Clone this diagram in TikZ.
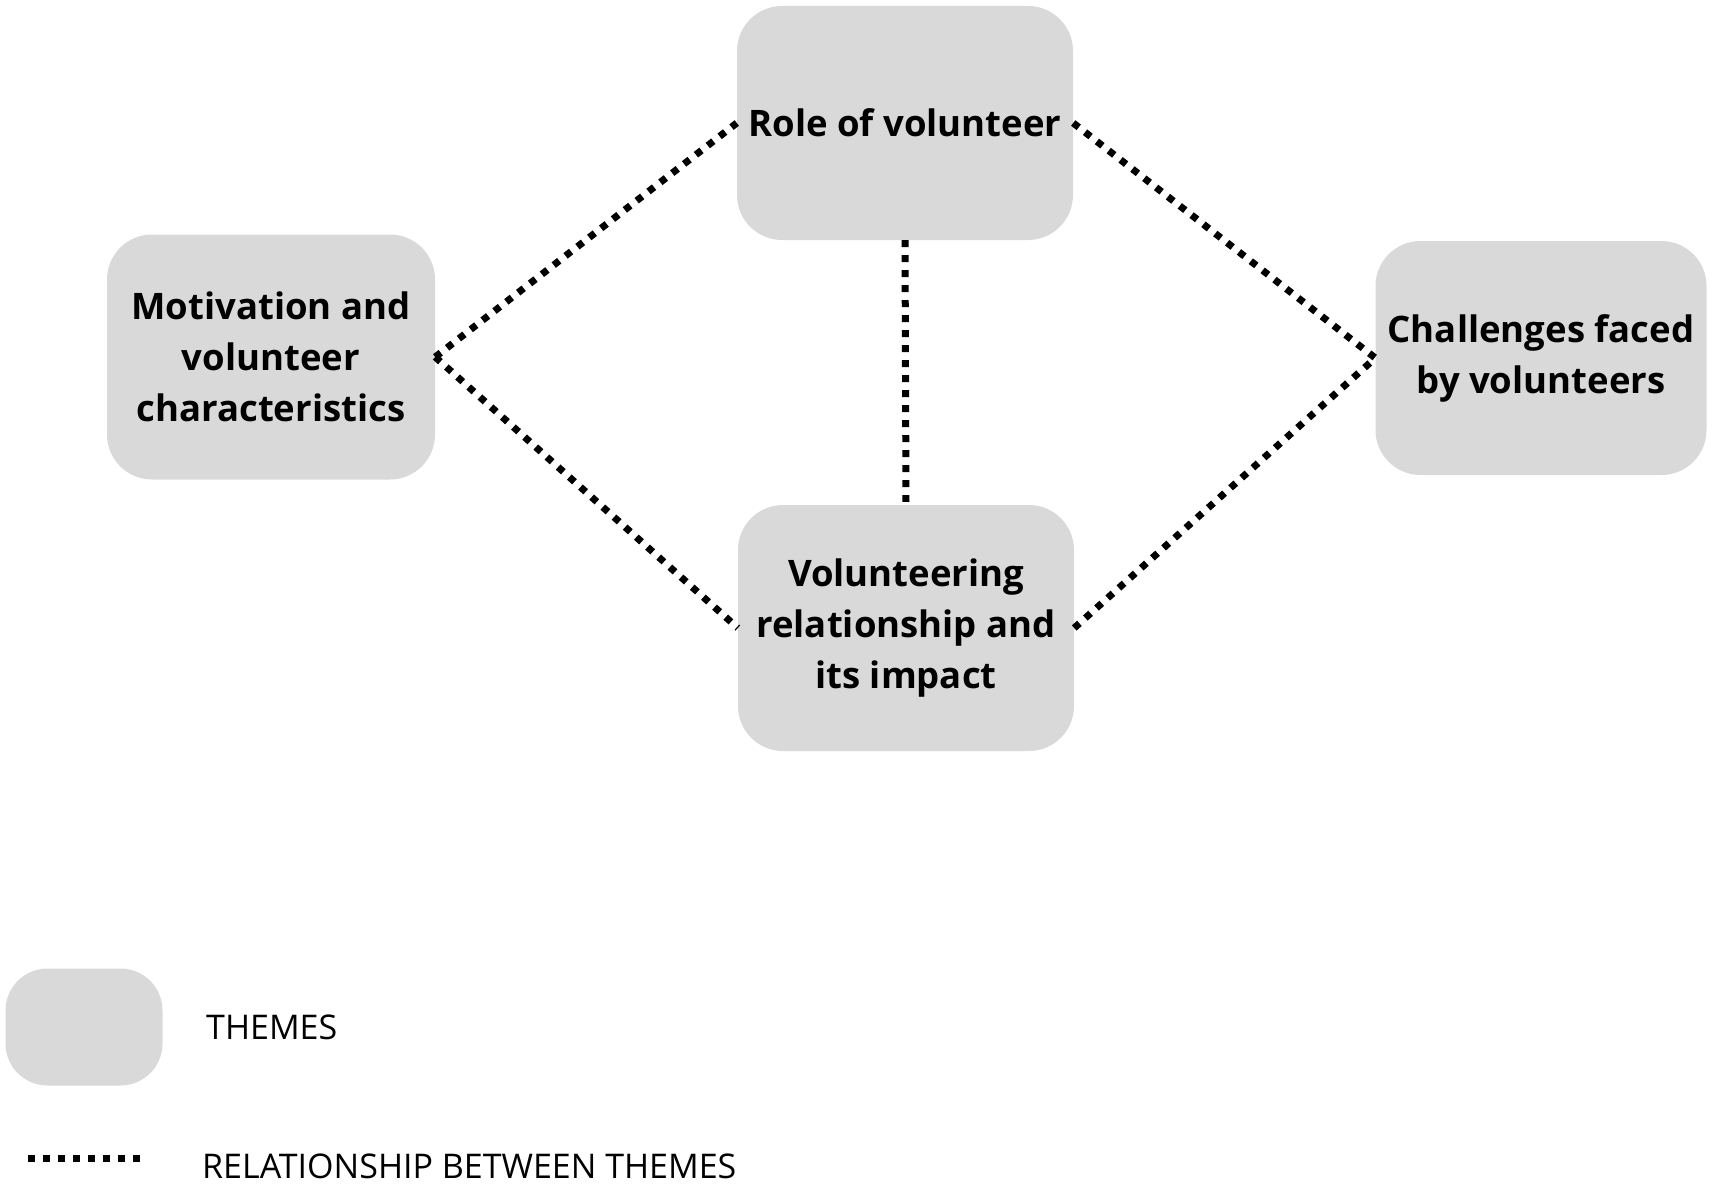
\documentclass[tikz,border=0pt]{standalone}
\usepackage{fontspec}
\setmainfont{Open Sans}
\usepackage{xcolor}
\usepackage{tikz}
\definecolor{themegray}{HTML}{D9D9D9}
\tikzset{
  theme node/.style={rectangle,rounded corners=45pt,fill=themegray,align=center,
    inner sep=0pt,font=\bfseries\fontsize{36.5}{51}\selectfont},
  link/.style={line width=7pt,dash pattern=on 7pt off 8pt,line cap=butt},
  legend text/.style={anchor=west,inner sep=0pt,font=\fontsize{34}{40}\selectfont}
}

\begin{document}
\begin{tikzpicture}[x=1pt,y=-1pt]
  \useasboundingbox (0,0) rectangle (1713,1188);
  \node [theme node,minimum width=336pt,minimum height=234pt] (role) at (905,123) {Role of volunteer};
  \node [theme node,minimum width=328pt,minimum height=245pt] (motiv) at (271,357)
    {Motivation and\\volunteer\\characteristics};
  \node [theme node,minimum width=331pt,minimum height=234pt] (chall) at (1541,358)
    {Challenges faced\\by volunteers};
  \node [theme node,minimum width=336pt,minimum height=246pt] (relat) at (906,628)
    {Volunteering\\relationship and\\its impact};
  % relationships between themes
  \draw [link] (motiv.east) -- (role.west);
  \draw [link] (motiv.east) -- (relat.west);
  \draw [link] (role.east) -- (chall.west);
  \draw [link] (relat.east) -- (chall.west);
  \draw [link,shorten >=3pt] (role.south) -- (relat.north);
  % legend
  \node [theme node,rounded corners=42pt,minimum width=157pt,minimum height=117pt] (keybox) at (84,1027) {};
  \node [legend text] (keytheme) at (206,1027) {THEMES};
  \coordinate (keyA) at (28,1158);
  \coordinate (keyB) at (140,1158);
  \draw [link] (keyA) -- (keyB);
  \node [legend text] (keylink) at (202,1166) {RELATIONSHIP BETWEEN THEMES};
\end{tikzpicture}
\end{document}
